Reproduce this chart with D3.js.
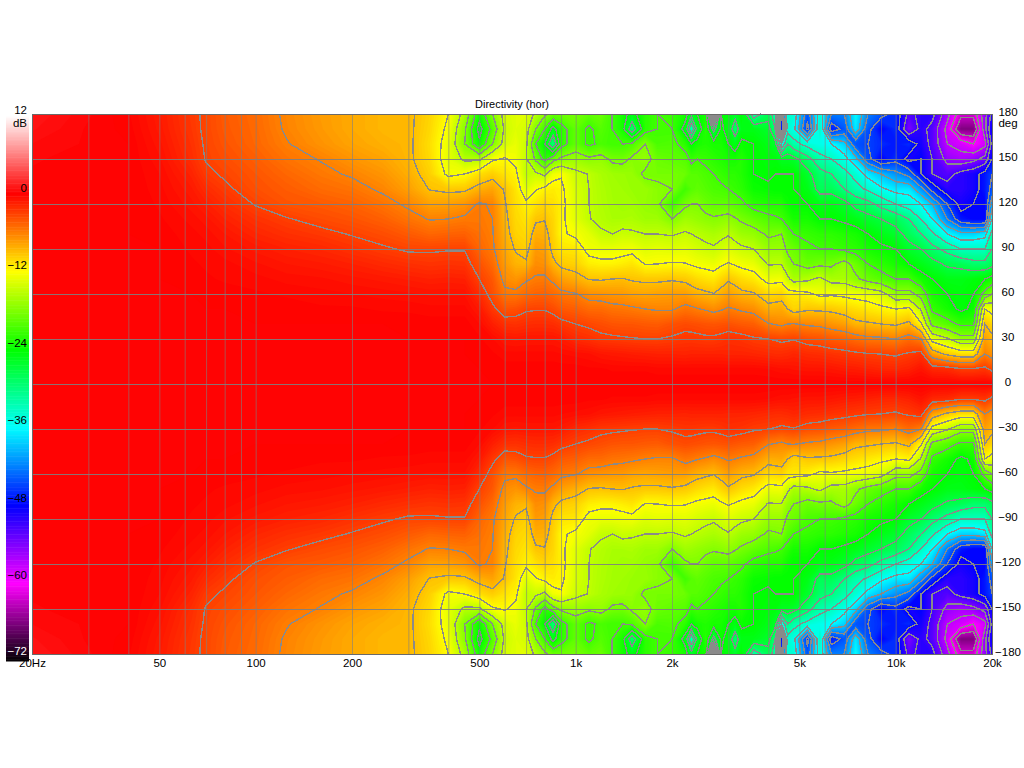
<!DOCTYPE html>
<html>
<head>
<meta charset="utf-8">
<title>Directivity (hor)</title>
<script src="https://cdn.jsdelivr.net/npm/d3@7"></script>
<style>
  html, body { margin: 0; padding: 0; background: #fff; }
  svg { display: block; }
  text { font-family: "Liberation Sans", Arial, sans-serif; font-size: 11.5px; fill: #000; }
</style>
</head>
<body>
<svg id="chart" width="1024" height="768"></svg>
<script>
var angles = [0,10,20,30,40,50,60,70,80,90,100,110,120,130,140,150,160,170,180];
var freqs = [20,30,40,50,63,70,80,100,125,160,200,250,300,350,400,450,500,550,600,650,700,750,800,850,900,
  1000,1100,1200,1300,1400,1500,1650,1800,2000,2200,2300,2400,2550,2700,2850,3000,3150,3300,3600,4000,4200,4400,4600,4800,
  5300,5800,6300,6900,7500,8200,9000,10000,11000,12000,13000,14500,16000,17500,19000,20000];

// one list per frequency, level in dB from 0 to 180 deg (the rear half is read as mirrored)
var dbByFreq = [
  [0,0,0,0,0,0,0,0,0,0,0,0,0,0,.2,.3,.5,.8,1],
  [0,0,0,0,0,0,0,0,0,0,0,0,0,0,0,.1,.2,.2,.3],
  [0,0,0,0,0,0,0,0,0,0,0,0,0,0,0,0,0,-.1,-.2],
  [0,0,0,0,0,0,0,0,0,0,-.1,-.2,-.3,-.4,-.5,-.7,-.9,-1.1,-1.2],
  [0,0,0,0,0,0,0,-.1,-.2,-.3,-.4,-.6,-.9,-1.2,-1.6,-2.1,-2.3,-2.5,-2.6],
  [0,0,0,0,0,0,-.1,-.2,-.3,-.4,-.6,-.9,-1.4,-2,-2.7,-3.1,-3.2,-3.3,-3.3],
  [0,0,0,0,0,0,-.1,-.3,-.4,-.7,-1,-1.5,-2.1,-2.7,-3.2,-3.6,-3.9,-4.1,-4.2],
  [0,0,0,0,0,-.1,-.2,-.4,-.7,-1.1,-1.7,-2.3,-3.1,-3.7,-4,-4.4,-4.8,-4.9,-5],
  [0,0,0,0,0,-.1,-.3,-.6,-1,-1.5,-2.2,-2.9,-3.9,-4.3,-4.8,-5.4,-5.9,-6.2,-6.3],
  [0,0,0,0,0,-.2,-.4,-.7,-1.2,-1.8,-2.6,-3.5,-4.2,-5,-5.6,-6.1,-6.9,-7.2,-7.3],
  [0,0,0,0,0,-.2,-.5,-.9,-1.5,-2.3,-3.1,-3.9,-4.6,-5.4,-6.2,-7,-7.7,-8,-8],
  [0,0,0,0,0,-.3,-.6,-1.1,-1.9,-2.8,-3.6,-4.5,-5.4,-6.3,-7,-7.7,-8.3,-8.6,-8.6],
  [0,0,0,0,-.1,-.3,-.7,-1.3,-2.2,-3.2,-4.2,-5.4,-6.3,-7.5,-8.2,-8.6,-8.6,-8.6,-8.6],
  [0,0,0,0,-.1,-.4,-.8,-1.5,-2.4,-3.2,-4.8,-6.1,-7.6,-9.1,-9.8,-10.3,-10.5,-10.2,-10],
  [0,0,0,0,-.1,-.4,-.8,-1.4,-2.3,-3.1,-4.6,-6,-7.5,-9.5,-12.5,-13.2,-13,-12.5,-12],
  [0,0,0,0,-.1,-.4,-.8,-1.5,-2.4,-3.1,-4.5,-5.7,-7,-9.4,-12,-15.5,-18,-17.5,-16],
  [0,0,-.1,-.2,-.5,-1.1,-2,-3,-3.8,-4.7,-5.2,-5.6,-5.8,-8.3,-10.5,-15.5,-23.5,-25,-23],
  [0,-.1,-.2,-.5,-1.4,-2.6,-3.7,-4.1,-5,-5.7,-5.9,-6,-6.2,-7.7,-9.7,-12.3,-18,-20,-18],
  [0,-.1,-.4,-1,-2.2,-3.9,-5.5,-6.6,-7.3,-7.8,-8.2,-8.5,-8.8,-9.2,-10.7,-11.8,-14,-14.5,-14],
  [0,-.1,-.4,-1.1,-2.3,-3.7,-5.6,-7,-8.4,-9.2,-9.9,-10.2,-10.5,-10.8,-11.5,-12.6,-13,-13.5,-13.5],
  [0,-.1,-.4,-1,-2.1,-3.2,-5,-6.2,-8.7,-9.7,-10.3,-10.8,-11.5,-13.5,-15,-14.8,-14.5,-14,-13.5],
  [0,-.1,-.4,-1,-2,-3.1,-4.6,-5.8,-6.6,-7.3,-8.2,-9.3,-10.7,-12.2,-14.5,-18.5,-21,-18,-15.5],
  [0,-.1,-.4,-1,-2,-3.1,-4.5,-5.7,-6.8,-7.5,-8.3,-9.1,-10,-11.5,-15.5,-22,-24,-21,-17.5],
  [0,-.1,-.4,-1,-2.1,-3.5,-4.9,-6.4,-8.5,-9.6,-9.9,-10.1,-10.5,-11.2,-12.7,-19,-30,-25,-19],
  [0,-.1,-.5,-1.2,-2.5,-4.1,-5.5,-7.5,-9.5,-10.8,-11.7,-11.5,-11.3,-11.5,-12.2,-17.5,-22,-22,-19],
  [0,-.1,-.6,-1.9,-3,-4.4,-5.9,-8.2,-9.9,-10.9,-12.4,-13.4,-13.7,-13.9,-14.4,-16.7,-19.5,-19.5,-18.5],
  [0,-.2,-.7,-2.2,-3.3,-5,-6.7,-9.1,-11.2,-12.7,-13.3,-14.9,-15,-15,-15.1,-17.5,-21.5,-21.5,-19.5],
  [0,-.2,-1,-2.6,-3.6,-5,-6.9,-9.2,-11.5,-13,-14.7,-15.5,-15.7,-15.8,-16,-17,-20.5,-20,-19],
  [0,-.3,-1.1,-2.7,-3.9,-5.4,-7.1,-9,-11.5,-13,-15,-16,-16.2,-16.3,-16.5,-18.5,-21,-21,-21],
  [0,-.3,-1.2,-2.8,-4,-5.5,-7.2,-8.9,-11.2,-12.8,-14.5,-16,-16.5,-16.5,-16.7,-18.7,-21,-23,-23],
  [0,-.3,-1.3,-2.9,-4,-5.7,-7.6,-9.2,-10.8,-12.6,-14.7,-15.9,-16.4,-16.8,-16.9,-17.6,-20.5,-29,-25],
  [0,-.3,-1.4,-3,-4.2,-6,-7.8,-9.4,-12.1,-13.5,-15,-16.5,-17,-16.8,-18.5,-17,-18,-22,-22],
  [0,-.4,-1.5,-3,-4.3,-6.2,-7.6,-9.4,-12,-13.2,-15,-16.5,-17.5,-17.5,-18.5,-19,-20.5,-21,-21],
  [0,-.4,-1.5,-2.8,-3.8,-6.2,-7.4,-9.2,-11.8,-13.5,-15.2,-18,-21,-18,-18.5,-19.5,-20.3,-21,-21.5],
  [0,-.4,-1.6,-2.5,-3.5,-5.4,-7.4,-9.5,-11.9,-13.3,-14.7,-16.5,-18.5,-21,-19,-20,-22,-25,-23],
  [0,-.4,-1.5,-2.5,-3.6,-5.6,-7.9,-9.9,-12.2,-13.6,-15,-16.7,-18,-20,-20,-21.5,-24,-33,-26],
  [0,-.4,-1.5,-2.6,-3.7,-5.9,-8.3,-10.3,-12.5,-14,-15.3,-17,-18,-19.5,-20,-21,-23,-26,-24],
  [0,-.4,-1.5,-2.7,-3.9,-6.2,-8.6,-10.7,-12.7,-14.4,-15.7,-17.4,-19,-20,-20.5,-21.5,-22.5,-22,-23],
  [0,-.4,-1.5,-2.7,-4,-6.6,-8.9,-11,-12.9,-14.7,-16,-17.7,-19.5,-20.5,-21,-22,-23,-28,-45],
  [0,-.4,-1.5,-2.5,-3.9,-6.2,-8.2,-10.1,-12.3,-14.1,-15.6,-17.5,-19.5,-20.7,-21.5,-22.5,-23,-23.5,-24],
  [0,-.4,-1.6,-2.2,-3.8,-5.8,-7.5,-9.3,-11.8,-13.5,-15.2,-17.2,-19.5,-21,-22,-23,-24,-25,-24.5],
  [0,-.4,-1.6,-2.3,-4,-6,-8,-9.8,-12.2,-14,-15.9,-17.8,-20,-21.5,-22,-23,-25,-29,-26],
  [0,-.4,-1.6,-2.4,-4.2,-6.3,-8.5,-10.4,-12.6,-14.5,-16.6,-18.4,-20.5,-22,-22.5,-22.5,-23.5,-25,-24],
  [0,-.4,-1.7,-2.8,-4.4,-6.7,-8.8,-11,-13,-15,-17,-19.3,-22,-23.5,-24,-24,-24,-25,-32],
  [0,-.5,-1.9,-3,-5.9,-8.2,-10.3,-12.8,-15.2,-16.8,-18.4,-20.3,-22.5,-23.8,-24.2,-24.5,-25,-26,-28],
  [0,-.6,-2,-3.1,-6.1,-8.1,-10.1,-12.7,-15.1,-16.8,-18.2,-20.6,-22.5,-24,-24,-24.5,-26,-30,-32],
  [0,-.7,-2,-3.3,-6.4,-8,-9.9,-12.6,-15.1,-16.8,-18,-21,-22.5,-24,-24,-25.5,-36,-48,-46],
  [0,-.7,-1.9,-3.2,-6,-9,-11,-14.5,-17,-18.5,-20,-22,-23.5,-24,-24,-25.5,-30,-34,-34],
  [0,-.8,-1.7,-3.1,-5.9,-10,-11,-16,-18,-19,-21,-23,-24,-24,-24,-26,-32,-35,-34],
  [0,-.9,-2,-3.6,-6.3,-9.3,-11.5,-15.5,-19,-20.5,-21.5,-23,-24,-25,-26,-29,-34,-46,-44],
  [0,-.9,-2.1,-3.8,-6.5,-9.4,-12.5,-14.5,-18.5,-21,-22,-24,-25,-28,-29,-32,-35,-33,-34],
  [0,-1,-2.3,-4.2,-7,-9.5,-12.3,-16,-18.5,-21,-22,-24,-25,-28,-30,-33,-36,-47,-42],
  [0,-1.2,-2.5,-4.5,-7.5,-10,-12.5,-16,-17,-21.5,-22.5,-24.5,-26,-30,-32,-35,-38,-44,-42],
  [0,-1.3,-2.7,-5,-8.5,-10.5,-12.8,-17.5,-19,-22,-23,-25,-28,-32,-34,-38,-44,-37,-36],
  [0,-1.5,-2.9,-5.5,-8.7,-11,-13,-19,-21,-23,-24,-26,-29,-33.5,-37,-44,-45,-44,-42],
  [0,-1.7,-3,-5.6,-9,-11.5,-13.8,-20,-22,-23.5,-25,-27,-31,-35.5,-39,-48,-46,-48,-44],
  [0,-1.8,-3.2,-6,-9.3,-12,-17,-21,-23,-24,-26,-28,-33,-37,-41,-46,-47,-46,-46],
  [0,-1.5,-2.8,-5,-8.5,-11.5,-17,-21,-24,-26,-28,-30,-34.5,-37,-43,-49,-46,-54,-52],
  [0,-.9,-2.3,-6,-11.7,-15.3,-19,-23,-25,-27,-30,-33,-36,-41,-48,-48,-49,-50,-50],
  [0,-1.8,-7.5,-13,-18.7,-21.5,-23,-24,-26,-29,-32.5,-36,-39,-46,-51,-51,-52,-52,-50],
  [0,-2,-9.5,-14.7,-20,-23,-24,-25,-27.5,-31,-36,-42,-45,-50,-52,-55,-57,-58,-56],
  [0,-2.8,-10.5,-17,-21.5,-24.5,-24.5,-25,-28,-33,-38,-47,-49,-50,-50,-56,-58,-66,-62],
  [0,-2.8,-10.5,-17,-21.5,-23.5,-24,-24.5,-29,-33,-38,-48,-48,-49,-49,-55,-60,-66,-62],
  [0,-2.5,-6,-7.5,-9,-12,-20,-24,-29,-33,-37,-48,-48,-47,-47,-53,-58,-55,-55],
  [0,-3.5,-7,-8.5,-10,-13,-18,-23,-28,-30,-32,-36,-40,-44,-45,-48,-50,-48,-50]
];

var freqTicks = [20,30,40,50,60,70,80,90,100,200,300,400,500,600,700,800,900,1000,2000,3000,4000,5000,6000,7000,8000,9000,10000,20000];
var freqLabels = {20:"20Hz",50:"50",100:"100",200:"200",500:"500",1000:"1k",2000:"2k",5000:"5k",10000:"10k",20000:"20k"};
var angleTicks = [180,150,120,90,60,30,0,-30,-60,-90,-120,-150,-180];
var dbTicks = [12,0,-12,-24,-36,-48,-60,-72];
var dbColors = ["#ffffff","#ff0000","#ffff00","#00ff00","#00ffff","#0000ff","#ff00ff","#000000"];
var contourLevels = d3.range(-66, -2, 3);

var svg = d3.select("#chart");
var left = 32, right = 992, top_ = 114, bottom = 654;

var x = d3.scaleLog().domain([20, 20000]).range([left, right]);
var y = d3.scaleLinear().domain([180, -180]).range([top_, bottom]);
var color = d3.scaleLinear().domain(dbTicks).range(dbColors);

// full grid, top of the plot first
var allAngles = angles.slice().reverse().concat(angles.slice(1).map(function(a){ return -a; }));
var nx = freqs.length, ny = allAngles.length;
var grid = [];
allAngles.forEach(function(a){
  var row = angles.indexOf(Math.abs(a));
  freqs.forEach(function(f, i){ grid.push(dbByFreq[i][row]); });
});

// d3.contours works in grid units (sample i sits at i + 0.5), these turn that into pixels
var colX = d3.scaleLinear().domain(d3.range(nx)).range(freqs.map(function(f){ return x(f); })).clamp(true);
var rowY = d3.scaleLinear().domain(d3.range(ny)).range(allAngles.map(function(a){ return y(a); })).clamp(true);
function project(p){ return [colX(p[0] - 0.5), rowY(p[1] - 0.5)]; }

var contours = d3.contours().size([nx, ny]);

var line = d3.line();

function bandPath(geom){
  var d = "";
  geom.coordinates.forEach(function(poly){
    poly.forEach(function(ring){
      d += line(ring.map(project)) + "Z";
    });
  });
  return d;
}

// the outline of a contour without the pieces that run along the border of the grid
function onBorder(a, b){
  return (a[0] <= 0.5 && b[0] <= 0.5) || (a[0] >= nx - 0.5 && b[0] >= nx - 0.5) ||
         (a[1] <= 0.5 && b[1] <= 0.5) || (a[1] >= ny - 0.5 && b[1] >= ny - 0.5);
}
function linePath(geom){
  var d = "";
  geom.coordinates.forEach(function(poly){
    poly.forEach(function(ring){
      var piece = [];
      for(var i = 0; i < ring.length; i++){
        if(i > 0 && onBorder(ring[i - 1], ring[i])){
          if(piece.length > 1) d += line(piece.map(project));
          piece = [];
        }
        piece.push(ring[i]);
      }
      if(piece.length > 1) d += line(piece.map(project));
    });
  });
  return d;
}

var plot = svg.append("g");

plot.append("rect")
  .attr("x", left).attr("y", top_)
  .attr("width", right - left).attr("height", bottom - top_)
  .attr("fill", color(d3.min(grid)));

var bandLevels = d3.range(-72, 12, 0.25);
plot.append("g").selectAll("path")
  .data(bandLevels.map(function(t){ return contours.contour(grid, t); }))
  .join("path")
  .attr("d", bandPath)
  .attr("fill", function(d){ return color(d.value + 0.125); });

plot.append("g").selectAll("path")
  .data(contourLevels.map(function(t){ return contours.contour(grid, t); }))
  .join("path")
  .attr("d", linePath)
  .attr("fill", "none")
  .attr("stroke", "#8a8a8a")
  .attr("stroke-width", 1.4)
  .attr("shape-rendering", "crispEdges");

// grid lines
var xGrid = d3.axisBottom(x).tickValues(freqTicks).tickSize(bottom - top_).tickFormat("");
svg.append("g").attr("transform", "translate(0," + top_ + ")").call(xGrid)
  .call(function(g){ g.select(".domain").remove(); })
  .selectAll("line").attr("stroke", "#808080").attr("stroke-opacity", 0.6);

var yGrid = d3.axisRight(y).tickValues(angleTicks).tickSize(right - left).tickFormat("");
svg.append("g").attr("transform", "translate(" + left + ",0)").call(yGrid)
  .call(function(g){ g.select(".domain").remove(); })
  .selectAll("line").attr("stroke", "#808080").attr("stroke-opacity", 0.9);

svg.append("rect")
  .attr("x", left + 0.5).attr("y", top_ + 0.5)
  .attr("width", right - left).attr("height", bottom - top_)
  .attr("fill", "none").attr("stroke", "#6a6a6a");

// tick labels
var xAxis = d3.axisBottom(x)
  .tickValues(freqTicks.filter(function(f){ return freqLabels[f]; }))
  .tickSize(0).tickPadding(5)
  .tickFormat(function(f){ return freqLabels[f]; });
svg.append("g").attr("transform", "translate(0," + bottom + ")").call(xAxis)
  .call(function(g){ g.select(".domain").remove(); })
  .selectAll("text").attr("font-family", null).attr("font-size", null);

var yAxis = d3.axisRight(y).tickValues(angleTicks).tickSize(0).tickPadding(0);
svg.append("g").attr("transform", "translate(1008,-2)").call(yAxis)
  .call(function(g){ g.select(".domain").remove(); })
  .selectAll("text").attr("text-anchor", "middle");

svg.append("text").attr("x", 1008).attr("y", 127).attr("text-anchor", "middle").text("deg");

svg.append("text")
  .attr("x", 512).attr("y", 108).attr("text-anchor", "middle")
  .style("font-size", "11px")
  .text("Directivity (hor)");

// colour bar
var barX = 6, barW = 23;
var barY = d3.scaleLinear().domain([12, -72]).range([115, 661]);
svg.append("g").selectAll("rect")
  .data(d3.range(12, -72, -0.25))
  .join("rect")
  .attr("x", barX)
  .attr("y", function(d){ return barY(d); })
  .attr("width", barW)
  .attr("height", function(d){ return barY(d - 0.25) - barY(d) + 0.5; })
  .attr("fill", function(d){ return color(d); });

var barAxis = d3.axisLeft(barY).tickValues(dbTicks).tickSize(0).tickPadding(0);
svg.append("g").attr("transform", "translate(27,0)").call(barAxis)
  .call(function(g){ g.select(".domain").remove(); })
  .selectAll("text")
  .attr("dy", "0.32em")
  .attr("transform", function(d){ return "translate(0," + (d === 12 ? -5 : d === -72 ? -10 : -5 + (d - 12) * 0.04) + ")"; })
  .style("fill", function(d){ return d === -72 ? "#fff" : "#000"; });

svg.append("text").attr("x", 27).attr("y", 127).attr("text-anchor", "end").text("dB");
</script>
</body>
</html>
